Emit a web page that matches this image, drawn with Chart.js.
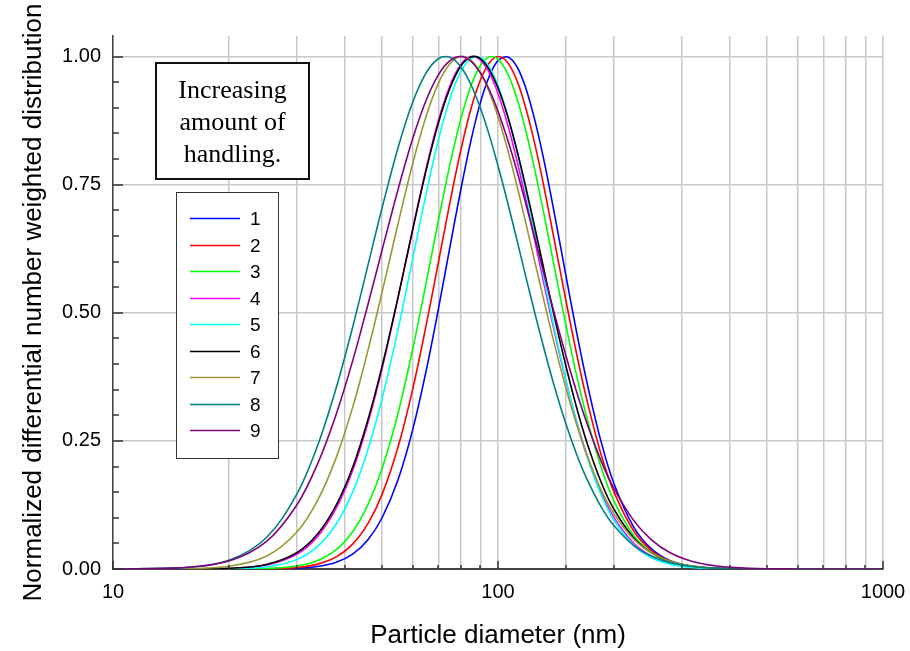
<!DOCTYPE html>
<html><head><meta charset="utf-8">
<script src="https://cdn.jsdelivr.net/npm/chart.js@4/dist/chart.umd.min.js"></script>
<style>html,body{margin:0;padding:0;background:#fff;}#wrap{width:910px;height:651px;position:relative;}</style>
</head><body><div id="wrap"><canvas id="c"></canvas></div>
<script>
const diameters = [10,15,20,25,30,34,38,42,46,50,55,60,65,70,75,80,85,90,95,100,106,112,118,125,132,140,150,160,170,185,200,225,250,280,320,370,450,600,1000];
const series1 = [0,0,0,0.0002,0.0014,0.0048,0.013,0.0295,0.0577,0.100,0.174,0.271,0.385,0.507,0.628,0.739,0.835,0.910,0.962,0.992,0.999,0.980,0.939,0.872,0.793,0.695,0.574,0.462,0.366,0.250,0.167,0.0822,0.0396,0.0161,0.0049,0.0011,0.0001,0,0];
const series2 = [0,0,0,0.0005,0.003,0.0095,0.0236,0.0491,0.0894,0.1456,0.238,0.350,0.474,0.598,0.715,0.816,0.897,0.954,0.988,1.000,0.988,0.953,0.900,0.825,0.741,0.642,0.525,0.420,0.331,0.225,0.1506,0.0747,0.0363,0.0151,0.0047,0.0011,0.0001,0,0];
const series3 = [0,0,0.0001,0.001,0.0058,0.0165,0.0378,0.0736,0.1266,0.196,0.304,0.428,0.557,0.680,0.789,0.877,0.942,0.983,0.999,0.995,0.966,0.918,0.856,0.774,0.688,0.590,0.477,0.378,0.296,0.200,0.133,0.0659,0.0322,0.0135,0.0043,0.0011,0.0001,0,0];
const series4 = [0,0.0001,0.0011,0.0076,0.0288,0.0637,0.1186,0.1936,0.287,0.391,0.529,0.662,0.780,0.875,0.943,0.984,1.000,0.993,0.968,0.928,0.867,0.797,0.723,0.636,0.552,0.464,0.368,0.288,0.224,0.1507,0.1008,0.0508,0.0256,0.0113,0.0039,0.0011,0.0001,0,0];
const series5 = [0,0,0.0005,0.0042,0.0183,0.044,0.0877,0.1514,0.2348,0.3327,0.4675,0.6046,0.7307,0.837,0.917,0.970,0.996,0.998,0.979,0.943,0.885,0.815,0.739,0.649,0.563,0.470,0.370,0.287,0.2206,0.1458,0.0956,0.0465,0.0225,0.0095,0.003,0.0008,0.0001,0,0];
const series6 = [0,0.0001,0.0014,0.0088,0.0318,0.0683,0.1245,0.200,0.2928,0.3958,0.5305,0.6612,0.7766,0.870,0.938,0.981,0.999,0.996,0.974,0.939,0.883,0.817,0.746,0.662,0.580,0.493,0.397,0.315,0.248,0.1708,0.1167,0.0611,0.0319,0.0146,0.0053,0.0016,0.0002,0,0];
const series7 = [0,0.0005,0.0053,0.0248,0.0717,0.1338,0.2173,0.3173,0.428,0.5402,0.6736,0.7902,0.8825,0.9477,0.986,1.000,0.9926,0.968,0.930,0.8825,0.8176,0.7477,0.6761,0.5956,0.5195,0.4397,0.3537,0.2818,0.2231,0.1555,0.108,0.0584,0.0317,0.0153,0.006,0.0019,0.0003,0,0];
const series8 = [0.0001,0.0022,0.0169,0.0609,0.1456,0.2409,0.3536,0.4742,0.5945,0.7048,0.8218,0.9101,0.9674,0.9956,0.9983,0.980,0.9458,0.8994,0.8456,0.7867,0.7141,0.6417,0.5714,0.4957,0.4269,0.357,0.2838,0.224,0.1764,0.1223,0.0848,0.046,0.0252,0.0124,0.0049,0.0017,0.0003,0,0];
const series9 = [0.0001,0.0023,0.0154,0.0532,0.1245,0.2051,0.302,0.4081,0.5177,0.6225,0.7406,0.839,0.9137,0.9642,0.992,1.000,0.991,0.968,0.9347,0.8933,0.8371,0.7765,0.7138,0.6421,0.5732,0.4992,0.4171,0.3457,0.2853,0.212,0.1572,0.0949,0.0575,0.0317,0.0147,0.0058,0.0014,0.0001,0];
const seriesLabels = ['1','2','3','4','5','6','7','8','9'];
const seriesColors = ['#0000ff','#ff0000','#00ff00','#ff00ff','#00ffff','#000000','#999933','#008080','#800080'];
const xMajorTicks = [10,100,1000];
const yMajorTicks = [0,0.25,0.5,0.75,1.0];
const yMinorStep = 0.05;
const noteLines = ['Increasing','amount of','handling.'];
const xTitle = 'Particle diameter (nm)';
const yTitle = 'Normalized differential number weighted distribution';

const allSeries = [series1,series2,series3,series4,series5,series6,series7,series8,series9];
const SANS = '"Liberation Sans", Arial, sans-serif';
const SERIF = '"Liberation Serif", "Times New Roman", serif';

const datasets = allSeries.map((s,i)=>({
  label: seriesLabels[i],
  data: diameters.map((d,j)=>({x:d,y:s[j]})),
  borderColor: seriesColors[i],
  backgroundColor: seriesColors[i],
  borderWidth: 1.6,
  pointRadius: 0,
  fill: false,
  tension: 0.35,
  order: allSeries.length - i
}));

function isMajorY(v){ return yMajorTicks.some(m=>Math.abs(m-v)<1e-6); }

const decorPlugin = {
  id: 'decor',
  afterDraw(chart){
    const ctx = chart.ctx, a = chart.chartArea, xs = chart.scales.x, ys = chart.scales.y;
    ctx.save();
    ctx.strokeStyle = '#333'; ctx.lineWidth = 1.5;
    xs.ticks.forEach(t=>{
      const px = Math.round(xs.getPixelForValue(t.value));
      const len = xMajorTicks.includes(t.value) ? 8 : 4;
      ctx.beginPath(); ctx.moveTo(px, a.bottom); ctx.lineTo(px, a.bottom-len); ctx.stroke();
    });
    ys.ticks.forEach(t=>{
      const py = Math.round(ys.getPixelForValue(t.value));
      const len = isMajorY(t.value) ? 10 : 6;
      ctx.beginPath(); ctx.moveTo(a.left, py); ctx.lineTo(a.left+len, py); ctx.stroke();
    });
    ctx.fillStyle = '#fff'; ctx.strokeStyle = '#111'; ctx.lineWidth = 2;
    ctx.fillRect(156,63,153,116); ctx.strokeRect(156,63,153,116);
    ctx.fillStyle = '#000'; ctx.font = '26px ' + SERIF; ctx.textAlign = 'center'; ctx.textBaseline = 'alphabetic';
    const bl = [98,130,161.5];
    noteLines.forEach((l,i)=>ctx.fillText(l, 232.5, bl[i]));
    ctx.fillStyle = '#fff'; ctx.strokeStyle = '#333'; ctx.lineWidth = 1;
    ctx.fillRect(176,192,102,266); ctx.strokeRect(176.5,192.5,102,266);
    ctx.font = '19px ' + SANS; ctx.textAlign = 'left'; ctx.textBaseline = 'middle';
    chart.data.datasets.forEach((ds,i)=>{
      const y = Math.round(218.3 + i*26.5) + 0.5;
      ctx.strokeStyle = ds.borderColor; ctx.lineWidth = 1.6;
      ctx.beginPath(); ctx.moveTo(190,y); ctx.lineTo(240,y); ctx.stroke();
      ctx.fillStyle = '#000'; ctx.fillText(ds.label, 250, y+1);
    });
    ctx.restore();
  }
};

new Chart(document.getElementById('c'), {
  type: 'line',
  data: { datasets },
  plugins: [decorPlugin],
  options: {
    responsive: true, maintainAspectRatio: false, animation: false,
    layout: { padding: { top: 36, right: 27, left: 0, bottom: 0 } },
    plugins: { legend: { display: false }, tooltip: { enabled: false } },
    scales: {
      x: {
        type: 'logarithmic', min: 10, max: 1000,
        afterFit(s){ s.height = 82; s.paddingRight = 0; s.paddingLeft = 0; },
        border: { display: true, color: '#444', width: 2 },
        grid: { color: '#c8c8c8', lineWidth: 1.5, drawTicks: false },
        ticks: {
          autoSkip: false, maxRotation: 0, padding: 11, color: '#000',
          font: { family: SANS, size: 20 },
          callback(v){ return xMajorTicks.includes(v) ? String(v) : ''; }
        },
        title: { display: true, text: xTitle, color: '#000', font: { family: SANS, size: 26 }, padding: { top: 0, bottom: 0 } }
      },
      y: {
        type: 'linear', min: 0, max: 1.04,
        afterFit(s){ s.width = 113; s.paddingTop = 0; s.paddingBottom = 0; },
        afterBuildTicks(s){
          const t = []; for (let k=0;k<=20;k++){ t.push({value: +(k*yMinorStep).toFixed(2)}); }
          s.ticks = t;
        },
        border: { display: true, color: '#444', width: 1.5 },
        grid: { drawTicks: false, lineWidth: 1.5, color(c){ return isMajorY(c.tick.value) ? '#c8c8c8' : 'rgba(0,0,0,0)'; } },
        ticks: {
          autoSkip: false, padding: 12, color: '#000', font: { family: SANS, size: 20 },
          callback(v){ return isMajorY(v) ? v.toFixed(2) : ''; }
        },
        title: { display: true, text: yTitle, color: '#000', font: { family: SANS, size: 26 }, padding: { top: 18, bottom: 0 } }
      }
    }
  }
});
</script></body></html>
